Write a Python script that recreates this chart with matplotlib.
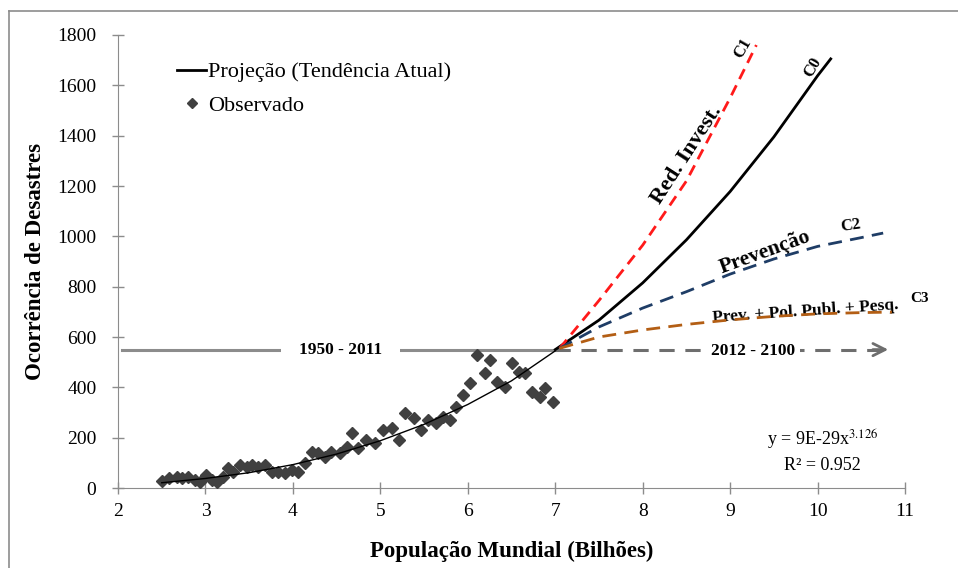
import matplotlib.pyplot as plt
from matplotlib.lines import Line2D

plt.rcParams['font.family'] = ['Liberation Serif', 'DejaVu Serif']
plt.rcParams['mathtext.fontset'] = 'stix'

obs_pop = [2.50, 2.58, 2.67, 2.73, 2.80, 2.88, 2.94, 3.01, 3.07, 3.13,
           3.20, 3.26, 3.32, 3.40, 3.47, 3.53, 3.60, 3.68, 3.76, 3.83,
           3.91, 3.99, 4.06, 4.14, 4.22, 4.29, 4.37, 4.44, 4.54, 4.62,
           4.67, 4.75, 4.84, 4.94, 5.03, 5.13, 5.21, 5.28, 5.38, 5.47,
           5.55, 5.64, 5.72, 5.80, 5.87, 5.95, 6.03, 6.10, 6.20, 6.25,
           6.33, 6.43, 6.50, 6.58, 6.65, 6.73, 6.83, 6.88, 6.98]
obs_dis = [29, 38, 45, 38, 45, 32, 25, 52, 32, 25,
           45, 78, 65, 91, 85, 91, 85, 91, 65, 65,
           58, 71, 65, 98, 144, 138, 124, 144, 138, 164,
           217, 158, 191, 178, 230, 237, 191, 297, 277, 230,
           270, 257, 283, 270, 323, 369, 416, 528, 456, 508,
           422, 402, 495, 462, 456, 383, 363, 396, 343]

# trend line over the observed period
trend_x = [2.5, 3.0, 3.5, 4.0, 4.5, 5.0, 5.5, 6.0, 6.5, 7.0]
trend_y = [21, 38, 61, 93, 135, 188, 253, 332, 426, 545]

# scenarios 2012-2100
c0_x = [7.0, 7.5, 8.0, 8.5, 9.0, 9.5, 10.0, 10.15]
c0_y = [550, 667, 815, 986, 1178, 1395, 1638, 1705]
c1_x = [7.05, 7.5, 8.0, 8.5, 9.0, 9.3]
c1_y = [555, 745, 965, 1220, 1550, 1760]
c2_x = [7.05, 7.5, 8.0, 8.5, 9.0, 9.5, 10.0, 10.5, 10.75]
c2_y = [555, 640, 715, 780, 850, 910, 960, 995, 1013]
c3_x = [7.05, 7.5, 8.0, 8.5, 9.0, 9.5, 10.0, 10.5, 10.85]
c3_y = [555, 600, 628, 650, 668, 682, 692, 697, 699]

period_level = 550
x_ticks = [2, 3, 4, 5, 6, 7, 8, 9, 10, 11]
y_ticks = [0, 200, 400, 600, 800, 1000, 1200, 1400, 1600, 1800]

fig = plt.figure(figsize=(9.58, 5.68), dpi=100)
ax = fig.add_axes([0.1232, 0.1408, 0.8215, 0.7976])

gray = '#8c8c8c'

# period markers
ax.plot([2.05, 7.0], [period_level, period_level], color=gray, lw=2.2, zorder=1)
ax.plot([7.0, 10.7], [period_level, period_level], color='#6e6e6e', lw=2.2,
        ls=(0, (5, 3.5)), zorder=1)
ax.annotate('', xy=(10.84, period_level), xytext=(10.6, period_level),
            arrowprops=dict(arrowstyle='->', color='#6e6e6e', lw=2,
                            mutation_scale=22), zorder=1)
ax.text(4.54, period_level, '1950 - 2011', ha='center', va='center',
        fontsize=12.5, fontweight='bold',
        bbox=dict(facecolor='white', edgecolor='none', pad=13), zorder=2)
ax.text(9.26, period_level - 5, '2012 - 2100', ha='center', va='center',
        fontsize=12.5, fontweight='bold',
        bbox=dict(facecolor='white', edgecolor='none', pad=4), zorder=2)

ax.plot(obs_pop, obs_dis, ls='none', marker='D', ms=6.5, color='#404040',
        zorder=3)
ax.plot(trend_x, trend_y, color='black', lw=1.0, zorder=4)

ax.plot(c0_x, c0_y, color='black', lw=2.0, zorder=4)
ax.plot(c1_x, c1_y, color='#ff1a1a', lw=2.0, ls=(0, (4, 2.5)), zorder=4)
ax.plot(c2_x, c2_y, color='#1f3d66', lw=2.0, ls=(0, (5, 3)), zorder=4)
ax.plot(c3_x, c3_y, color='#b35e14', lw=2.0, ls=(0, (5, 3)), zorder=4)

# scenario labels
ax.text(8.5, 1325, 'Red. Invest.', rotation=57, ha='center', va='center',
        fontsize=16, fontweight='bold')
ax.text(9.14, 1749, 'C1', rotation=60, ha='center', va='center',
        fontsize=12, fontweight='bold')
ax.text(9.95, 1673, 'C0', rotation=60, ha='center', va='center',
        fontsize=12, fontweight='bold')
ax.text(9.4, 935, 'Prevenção', rotation=20, ha='center', va='center',
        fontsize=15.5, fontweight='bold')
ax.text(10.38, 1041, 'C2', rotation=8, ha='center', va='center',
        fontsize=12, fontweight='bold')
ax.text(9.86, 700, 'Prev. + Pol. Publ. + Pesq.', rotation=4, ha='center',
        va='center', fontsize=12.5, fontweight='bold')
ax.text(11.16, 755, 'C3', ha='center', va='center', fontsize=11,
        fontweight='bold')

ax.text(10.06, 191, 'y = 9E-29x$^{3.126}$', ha='center', va='center',
        fontsize=13)
ax.text(10.06, 91, 'R² = 0.952', ha='center', va='center', fontsize=13)

ax.set_xlim(2, 11)
ax.set_ylim(0, 1800)
ax.set_xticks(x_ticks)
ax.set_yticks(y_ticks)
ax.tick_params(direction='inout', length=9, width=1, color=gray,
               labelsize=14, pad=6)
ax.tick_params(axis='y', pad=11)
for s in ['top', 'right']:
    ax.spines[s].set_visible(False)
for s in ['left', 'bottom']:
    ax.spines[s].set_color(gray)

ax.set_xlabel('População Mundial (Bilhões)', fontsize=16.5, fontweight='bold',
              labelpad=15)
ax.set_ylabel('Ocorrência de Desastres', fontsize=16.5, fontweight='bold',
              labelpad=8)

handles = [Line2D([], [], color='black', lw=2),
           Line2D([], [], ls='none', marker='D', ms=5.5, color='#404040')]
ax.legend(handles, ['Projeção (Tendência Atual)', 'Observado'],
          loc='upper left', bbox_to_anchor=(0.05, 0.985), frameon=False,
          fontsize=16, handlelength=1.3, handletextpad=0.1, labelspacing=0.6)

# outer frame
fig.add_artist(Line2D([9 / 958, 9 / 958], [0, 1 - 11 / 568], color=gray,
                      lw=1.2, transform=fig.transFigure))
fig.add_artist(Line2D([9 / 958, 1], [1 - 11 / 568, 1 - 11 / 568], color=gray,
                      lw=1.2, transform=fig.transFigure))

fig.savefig('out.png', dpi=100)
